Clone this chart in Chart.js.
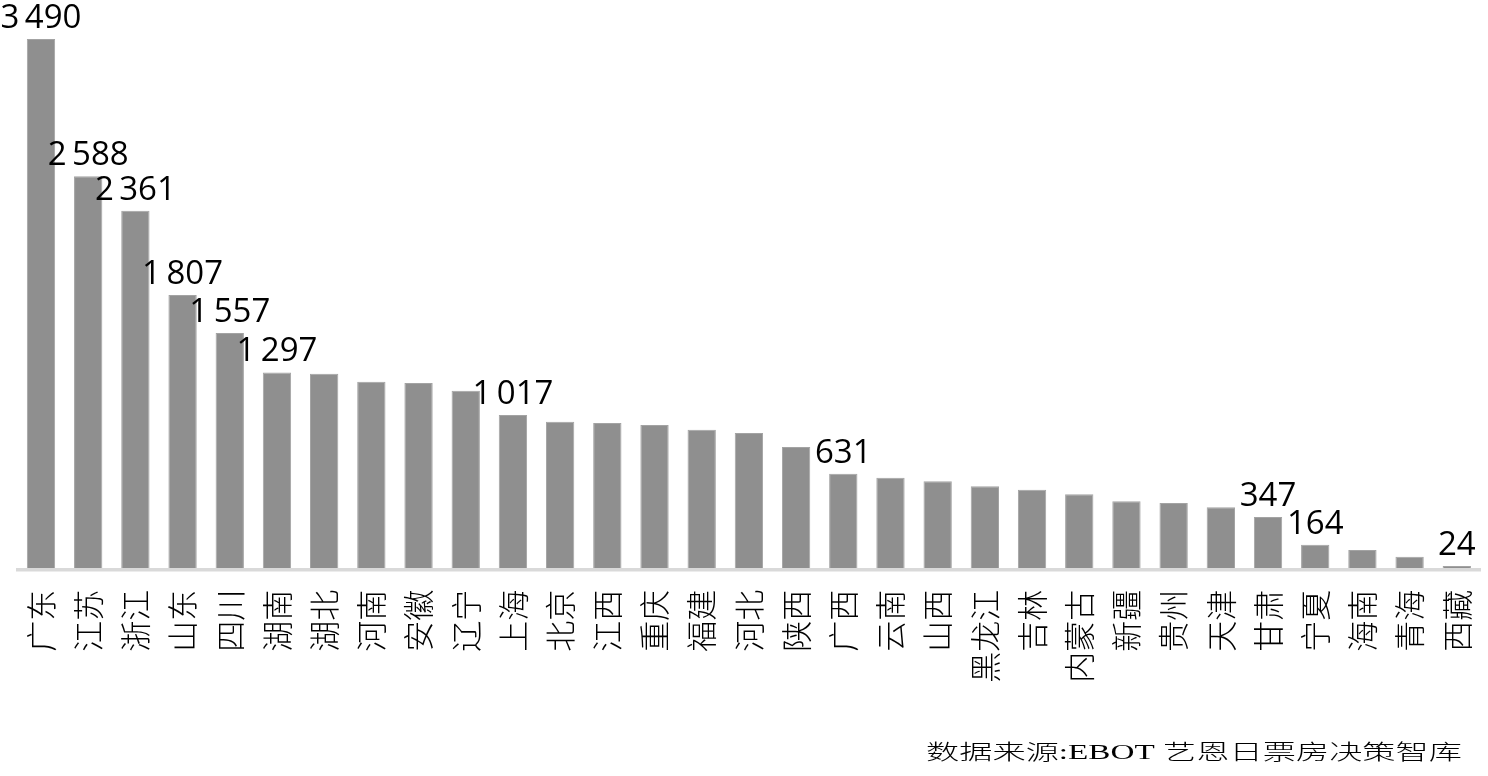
<!DOCTYPE html>
<html>
<head>
<meta charset="utf-8">
<script src="https://cdn.jsdelivr.net/npm/chart.js@4"></script>
<style>
  body { margin: 0; background: #fff; }
  #wrap { width: 1488px; height: 776px; position: relative; }
</style>
</head>
<body>
<div id="wrap"><canvas id="chart"></canvas></div>
<script>
  const provinces = ["广东", "江苏", "浙江", "山东", "四川", "湖南", "湖北", "河南", "安徽", "辽宁", "上海",
    "北京", "江西", "重庆", "福建", "河北", "陕西", "广西", "云南", "山西", "黑龙江", "吉林", "内蒙古",
    "新疆", "贵州", "天津", "甘肃", "宁夏", "海南", "青海", "西藏"];
  const counts = [3490, 2588, 2361, 1807, 1557, 1297, 1289, 1236, 1228, 1177, 1017,
    973, 964, 951, 920, 899, 807, 631, 605, 581, 548, 526, 496,
    450, 438, 410, 347, 164, 129, 85, 24];
  const labelled = ["广东", "江苏", "浙江", "山东", "四川", "湖南", "上海", "广西", "甘肃", "宁夏", "西藏"];
  const sourceText = "数据来源:EBOT 艺恩日票房决策智库";

  function fmt(n) {
    if (n < 1000) return String(n);
    return Math.floor(n / 1000) + "\u2009" + String(n % 1000).padStart(3, "0");
  }

  const barLabels = {
    id: "barLabels",
    afterDatasetsDraw(chart) {
      const ctx = chart.ctx;
      const meta = chart.getDatasetMeta(0);
      ctx.save();
      ctx.font = '33px "Open Sans"';
      ctx.fillStyle = "#000";
      ctx.textAlign = "center";
      ctx.textBaseline = "alphabetic";
      meta.data.forEach((bar, i) => {
        if (!labelled.includes(provinces[i])) return;
        ctx.fillText(fmt(counts[i]), bar.x, bar.y - 11);
      });
      ctx.restore();
    }
  };

  const sourceNote = {
    id: "sourceNote",
    afterDraw(chart) {
      const ctx = chart.ctx;
      ctx.save();
      ctx.font = '300 21px "Liberation Serif", "Noto Sans CJK SC"';
      ctx.fillStyle = "#000";
      const w = ctx.measureText(sourceText).width;
      ctx.translate(1462, 759);
      ctx.scale(536 / w, 1);
      ctx.textAlign = "right";
      ctx.textBaseline = "alphabetic";
      ctx.fillText(sourceText, 0, 0);
      ctx.restore();
    }
  };

  new Chart(document.getElementById("chart"), {
    type: "bar",
    data: {
      labels: provinces,
      datasets: [{
        data: counts,
        backgroundColor: "#8f8f8f",
        borderColor: "#a3a3a3",
        borderWidth: 1,
        barPercentage: 0.6,
        categoryPercentage: 1
      }]
    },
    options: {
      responsive: true,
      maintainAspectRatio: false,
      animation: false,
      layout: { padding: { top: 39, left: 17.4, right: 7.6, bottom: 0 } },
      plugins: { legend: { display: false }, tooltip: { enabled: false } },
      scales: {
        x: {
          grid: { display: false, drawTicks: false },
          border: { display: true, color: "#d9d9d9", width: 3.5, z: 1 },
          ticks: {
            color: "#000",
            font: { family: '"Noto Sans CJK SC"', size: 31, weight: 300 },
            minRotation: 90, maxRotation: 90,
            autoSkip: false,
            padding: 20
          },
          afterFit: s => {
            s.height = 206.35;
            s.paddingLeft = 0;
            s.paddingRight = 0;
          }
        },
        y: { display: false, min: 0, max: 3490 }
      }
    },
    plugins: [barLabels, sourceNote]
  });
</script>
</body>
</html>
